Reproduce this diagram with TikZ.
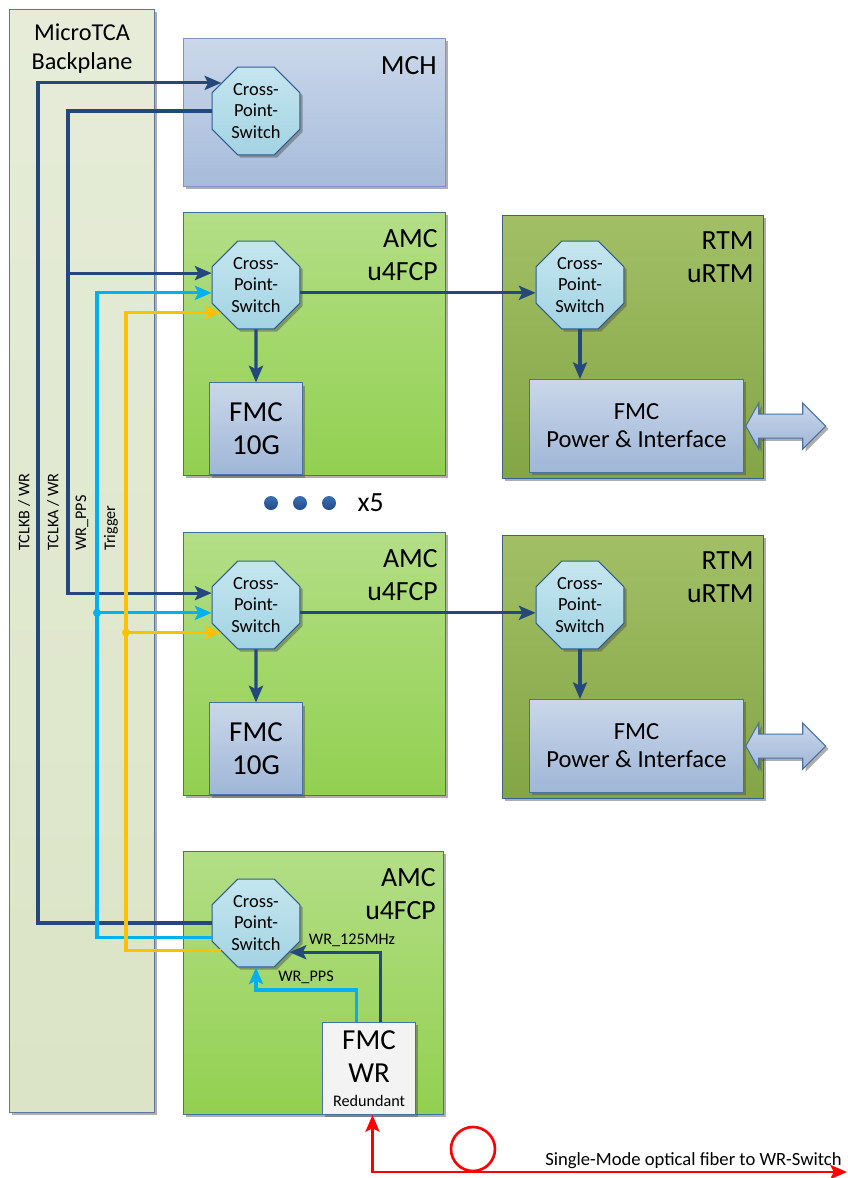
\documentclass[tikz,border=0pt]{standalone}
\usepackage{fontspec}
\setmainfont{Carlito}
\usepackage{tikz}
\usetikzlibrary{positioning,shapes.geometric,arrows.meta,shadows}

\definecolor{linkblue}{HTML}{24487C}
\definecolor{ppsblue}{HTML}{00B0F0}
\definecolor{trigorange}{HTML}{FFC000}
\definecolor{planetop}{HTML}{E6ECD8}
\definecolor{planebot}{HTML}{DBE4C6}
\definecolor{planeedge}{HTML}{5A77A0}
\definecolor{mchtop}{HTML}{CBD8EB}
\definecolor{mchbot}{HTML}{A6BBDA}
\definecolor{mchedge}{HTML}{7D97C2}
\definecolor{amctop}{HTML}{B3DE86}
\definecolor{amcbot}{HTML}{92D050}
\definecolor{amcedge}{HTML}{41719C}
\definecolor{rtmtop}{HTML}{A2BF65}
\definecolor{rtmbot}{HTML}{84A546}
\definecolor{rtmedge}{HTML}{3E5F8C}
\definecolor{cpstop}{HTML}{C5E6EF}
\definecolor{cpsbot}{HTML}{A3D3E3}
\definecolor{cpsedge}{HTML}{2F5E8E}
\definecolor{fmctop}{HTML}{CAD7E9}
\definecolor{fmcbot}{HTML}{9FB6D7}
\definecolor{fmcedge}{HTML}{4A6FA5}
\definecolor{wrfill}{HTML}{F3F3F3}
\definecolor{blobtop}{HTML}{3C6EB4}
\definecolor{blobbot}{HTML}{1F4D8A}

\newcommand{\tagfnt}{\fontsize{15.8}{19}\selectfont}
\newcommand{\planefnt}{\fontsize{13.8}{17}\selectfont}
\newcommand{\cpsfnt}{\fontsize{10.5}{12.3}\selectfont}
\newcommand{\fmcfnt}{\fontsize{16.5}{19}\selectfont}
\newcommand{\ifacefnt}{\fontsize{14}{16}\selectfont}
\newcommand{\railfnt}{\fontsize{9.2}{11}\selectfont}
\newcommand{\fiberfnt}{\fontsize{10.6}{12}\selectfont}

\begin{document}
\begin{tikzpicture}[
  x=0.02cm, y=-0.02cm,
  >={Stealth[length=9.5pt,width=8pt,inset=2pt]},
  boxshadow/.style={drop shadow={shadow xshift=1.6pt, shadow yshift=-1.6pt, opacity=0.45, fill=black!70}},
  box/.style={draw, line width=0.6pt, rectangle, anchor=north west, inner sep=0pt, boxshadow},
  plane/.style={box, draw=planeedge, top color=planetop, bottom color=planebot},
  mchbox/.style={box, draw=mchedge, top color=mchtop, bottom color=mchbot},
  amcbox/.style={box, draw=amcedge, top color=amctop, bottom color=amcbot, minimum width=5.24cm, minimum height=5.26cm},
  rtmbox/.style={box, draw=rtmedge, top color=rtmtop, bottom color=rtmbot, minimum width=5.22cm, minimum height=5.26cm},
  fmcbox/.style={box, draw=fmcedge, top color=fmctop, bottom color=fmcbot, align=center},
  cps/.style={regular polygon, regular polygon sides=8, minimum size=1.9cm, inner sep=0pt, draw=cpsedge, line width=0.6pt, top color=cpstop, bottom color=cpsbot, align=center, font=\cpsfnt, boxshadow},
  tag/.style={anchor=north east, inner sep=0pt, align=right, font=\tagfnt},
  rail/.style={rotate=90, anchor=west, inner sep=0pt, font=\railfnt},
  sigtext/.style={inner sep=0pt, font=\railfnt},
  sig/.style={line width=1.75pt},
  clk/.style={sig, draw=linkblue},
  pps/.style={sig, draw=ppsblue},
  trig/.style={sig, draw=trigorange},
  fiber/.style={sig, draw=red, line width=1.6pt},
  junct/.style={circle, fill=#1, inner sep=0pt, minimum size=0.16cm},
  blob/.style={circle, inner sep=0pt, minimum size=0.28cm, top color=blobtop, bottom color=blobbot},
  dbl/.style={draw=fmcedge, line width=0.6pt, top color=fmctop, bottom color=fmcbot, boxshadow}
]
  \useasboundingbox (0,0) rectangle (848,1178);

  % Backplane
  \node[plane, minimum width=2.9cm, minimum height=22.06cm] (bp) at (9,9) {};
  \node[anchor=north, align=center, inner sep=0pt, font=\planefnt] (bplbl) at ([shift={(0,14)}]bp.north) {MicroTCA\\Backplane};
  \coordinate (railB) at (38,0);
  \coordinate (railA) at (68,0);
  \coordinate (railP) at (97,0);
  \coordinate (railT) at (126,0);

  % MCH
  \node[mchbox, minimum width=5.24cm, minimum height=2.96cm] (mch) at (183,38) {};
  \node[tag] (mchlbl) at ([shift={(-9,18)}]mch.north east) {MCH};
  \node[cps] (cpsM) at (256,111) {Cross-\\Point-\\Switch};

  % AMC / RTM pair 1
  \node[amcbox] (amc1) at (183,212) {};
  \node[tag] (amc1lbl) at ([shift={(-8,17)}]amc1.north east) {AMC\\u4FCP};
  \node[cps] (cpsA1) at (256,285) {Cross-\\Point-\\Switch};
  \node[fmcbox, font=\fmcfnt, minimum width=1.86cm, minimum height=1.84cm, below=1.06cm of cpsA1] (fmcA1) {FMC\\10G};
  \node[rtmbox] (rtm1) at (502,215) {};
  \node[tag] (rtm1lbl) at ([shift={(-10,16)}]rtm1.north east) {RTM\\uRTM};
  \node[cps] (cpsR1) at (580,285) {Cross-\\Point-\\Switch};
  \node[fmcbox, font=\ifacefnt, minimum width=4.28cm, minimum height=1.86cm] (fmcR1) at (529,379) {FMC\\Power \& Interface};
  \path[dbl] ([xshift=1pt]fmcR1.east) -- ++(13,-23) -- ++(0,11) -- ++(44,0) -- ++(0,-11) -- ++(23,23) -- ++(-23,23) -- ++(0,-11) -- ++(-44,0) -- ++(0,11) -- cycle;

  % x5
  \node[blob] (dot1) at (271,503) {};
  \node[blob] (dot2) at (300,503) {};
  \node[blob] (dot3) at (329,503) {};
  \node[inner sep=0pt, font=\tagfnt, right=0.42cm of dot3] (count) {x5};

  % AMC / RTM pair 2
  \node[amcbox] (amc2) at (183,532) {};
  \node[tag] (amc2lbl) at ([shift={(-8,17)}]amc2.north east) {AMC\\u4FCP};
  \node[cps] (cpsA2) at (256,605) {Cross-\\Point-\\Switch};
  \node[fmcbox, font=\fmcfnt, minimum width=1.86cm, minimum height=1.84cm, below=1.06cm of cpsA2] (fmcA2) {FMC\\10G};
  \node[rtmbox] (rtm2) at (502,535) {};
  \node[tag] (rtm2lbl) at ([shift={(-10,16)}]rtm2.north east) {RTM\\uRTM};
  \node[cps] (cpsR2) at (580,605) {Cross-\\Point-\\Switch};
  \node[fmcbox, font=\ifacefnt, minimum width=4.28cm, minimum height=1.86cm] (fmcR2) at (529,699) {FMC\\Power \& Interface};
  \path[dbl] ([xshift=1pt]fmcR2.east) -- ++(13,-23) -- ++(0,11) -- ++(44,0) -- ++(0,-11) -- ++(23,23) -- ++(-23,23) -- ++(0,-11) -- ++(-44,0) -- ++(0,11) -- cycle;

  % AMC with White Rabbit
  \node[amcbox, minimum width=5.2cm] (amc3) at (183,851) {};
  \node[tag] (amc3lbl) at ([shift={(-8,17)}]amc3.north east) {AMC\\u4FCP};
  \node[cps] (cpsW) at (256,923) {Cross-\\Point-\\Switch};
  \node[box, draw=fmcedge, fill=wrfill, align=center, font=\fmcfnt, minimum width=1.86cm, minimum height=1.84cm] (fmcW) at (322,1022) {FMC\\WR\\[-5.4pt]{\railfnt Redundant}};

  % Backplane lines
  \draw[clk,->] (cpsW.west) -| (railB |- cpsM.141) -- (cpsM.141);
  \draw[clk,->] (cpsM.west) -| (railA |- cpsA2.165) -- (cpsA2.165);
  \draw[clk,->] (railA |- cpsA1.165) -- (cpsA1.165);
  \draw[pps,->] (cpsW.198) -| (railP |- cpsA1.190) -- (cpsA1.190);
  \draw[pps,->] (railP |- cpsA2.190) -- (cpsA2.190);
  \node[junct=ppsblue] (jP) at (railP |- cpsA2.190) {};
  \draw[trig,->] (cpsW.218) -| (railT |- cpsA1.218) -- (cpsA1.218);
  \draw[trig,->] (railT |- cpsA2.218) -- (cpsA2.218);
  \node[junct=trigorange] (jT) at (railT |- cpsA2.218) {};

  \node[rail] (railBlbl) at (24,551) {TCLKB / WR};
  \node[rail] (railAlbl) at (53,551) {TCLKA / WR};
  \node[rail] (railPlbl) at (82,551) {WR\_PPS};
  \node[rail] (railTlbl) at (111,551) {Trigger};

  % Module links
  \draw[clk,->] (cpsA1.350) -- (cpsA1.350 -| cpsR1.west);
  \draw[clk,->] (cpsA1) -- (fmcA1);
  \draw[clk,->] (cpsR1.south) -- (cpsR1.south |- fmcR1.north);
  \draw[clk,->] (cpsA2.350) -- (cpsA2.350 -| cpsR2.west);
  \draw[clk,->] (cpsA2) -- (fmcA2);
  \draw[clk,->] (cpsR2.south) -- (cpsR2.south |- fmcR2.north);

  % WR signals
  \draw[clk,->] ([xshift=0.23cm]fmcW.north) |- (cpsW.319);
  \draw[pps,->] ([xshift=-0.25cm]fmcW.north) -- ++(0,-32) -| (cpsW.south);
  \node[sigtext] (lbl125) at (352,940) {WR\_125MHz};
  \node[sigtext] (lblpps) at (306,977) {WR\_PPS};

  % Fiber
  \node[circle, draw=red, line width=1.5pt, minimum size=0.88cm, inner sep=0pt] (loop) at (473,1149) {};
  \coordinate (wrsw) at (847,1172);
  \draw[fiber,<->] ([xshift=0.07cm]fmcW.south) |- (wrsw);
  \node[anchor=base east, inner sep=0pt, font=\fiberfnt] (fibertxt) at (842,1165) {Single-Mode optical fiber to WR-Switch};
\end{tikzpicture}
\end{document}
